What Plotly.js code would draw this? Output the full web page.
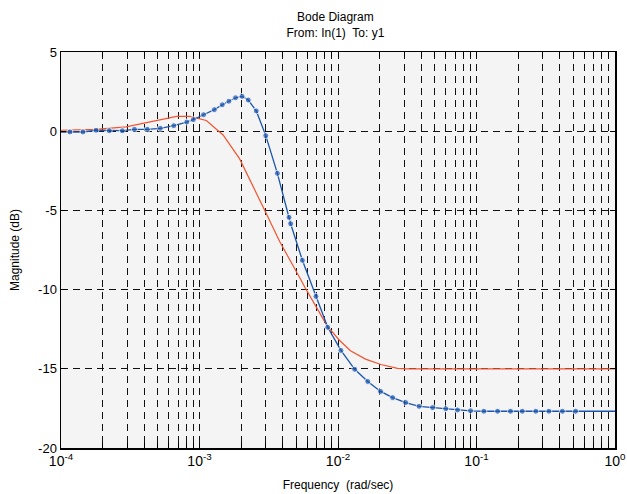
<!DOCTYPE html>
<html>
<head>
<meta charset="utf-8">
<script src="https://cdn.plot.ly/plotly-3.0.1.min.js"></script>
<style>html,body{margin:0;padding:0;background:#fff;}</style>
</head>
<body>
<div id="chart" style="width:627px;height:494px;"></div>
<script>
// Blue series (with markers) – frequency in rad/sec, magnitude in dB
const blueFreq = [1e-4, 1.16e-4, 1.44e-4, 1.79e-4, 2.23e-4, 2.77e-4, 3.39e-4, 4.20e-4, 5.21e-4, 6.52e-4, 8.09e-4, 9.02e-4,
  1.07e-3, 1.28e-3, 1.46e-3, 1.63e-3, 1.82e-3, 2.03e-3, 2.25e-3, 2.57e-3, 3.01e-3, 3.65e-3, 4.43e-3, 4.55e-3,
  5.53e-3, 6.93e-3, 8.43e-3, 1.05e-2, 1.32e-2, 1.64e-2, 2.03e-2, 2.48e-2, 3.08e-2, 3.85e-2, 4.82e-2, 6.00e-2,
  7.29e-2, 9.06e-2, 0.113, 0.142, 0.176, 0.214, 0.268, 0.333, 0.417, 0.519, 1.0];
const blueMag = [-0.05, -0.05, -0.05, 0.06, 0.03, 0.03, 0.12, 0.12, 0.18, 0.35, 0.58, 0.73,
  1.04, 1.36, 1.67, 1.89, 2.11, 2.2, 1.97, 1.28, -0.28, -2.66, -5.44, -5.84,
  -8.15, -10.43, -12.38, -13.84, -15.03, -15.80, -16.43, -16.82, -17.13, -17.37, -17.45, -17.52,
  -17.6, -17.65, -17.68, -17.68, -17.68, -17.68, -17.68, -17.68, -17.68, -17.68, -17.68];
// Red series (line only)
const redFreq = [1e-4, 1.78e-4, 2.95e-4, 6.84e-4, 8.51e-4, 1.12e-3, 1.48e-3, 1.95e-3, 2.95e-3, 3.80e-3,
  5.37e-3, 5.75e-3, 7.08e-3, 8.32e-3, 1.02e-2, 1.23e-2, 1.58e-2, 2.04e-2, 2.69e-2, 3.16e-2, 1.0];
const redMag = [0.06, 0.12, 0.27, 0.94, 0.94, 0.68, -0.24, -1.75, -4.97, -6.98,
  -9.35, -9.84, -11.2, -12.27, -13.18, -13.86, -14.39, -14.73, -14.97, -15.0, -15.0];
// Axis ticks
const decades = [-4, -3, -2, -1, 0];
const yTicks = [-20, -15, -10, -5, 0, 5];

const xTickVals = [], xTickText = [];
decades.forEach((d, i) => {
  const mults = (i === decades.length - 1) ? [1] : [1,2,3,4,5,6,7,8,9];
  mults.forEach(m => {
    xTickVals.push(m * Math.pow(10, d));
    xTickText.push(m === 1 ? '10<sup>' + d + '</sup>' : '');
  });
});

const markerSizes = blueFreq.map((f, i) => (i === 0 || i === blueFreq.length - 1) ? 0 : 6);

const traces = [
  {x: redFreq, y: redMag, type: 'scatter', mode: 'lines',
   line: {color: '#f4532f', width: 1.2}, hoverinfo: 'skip'},
  {x: blueFreq, y: blueMag, type: 'scatter', mode: 'lines+markers',
   line: {color: '#1a55ad', width: 1.3},
   marker: {color: '#1a55ad', size: markerSizes}, hoverinfo: 'skip'}
];

const layout = {
  width: 627, height: 494,
  margin: {l: 61, r: 12, t: 52, b: 46},
  paper_bgcolor: '#ffffff',
  plot_bgcolor: '#f4f4f4',
  showlegend: false,
  font: {family: 'Liberation Sans, Arial, sans-serif', color: '#000', size: 12},
  title: {text: 'Bode Diagram<br>From: In(1)  To: y1', x: 0.535, xanchor: 'center',
          yref: 'container', y: 0.957, yanchor: 'bottom', font: {size: 12, color: '#000'}},
  xaxis: {
    type: 'log', range: [-4, 0],
    tickmode: 'array', tickvals: xTickVals, ticktext: xTickText,
    tickfont: {size: 14},
    ticks: 'inside', ticklen: 5, tickcolor: '#000',
    showline: true, linecolor: '#000', linewidth: 1.5, mirror: 'ticks',
    showgrid: true, gridcolor: '#111', gridwidth: 1, griddash: '7px,5px',
    zeroline: false,
    title: {text: 'Frequency  (rad/sec)', font: {size: 12}, standoff: 12}
  },
  yaxis: {
    range: [-20, 5],
    tickmode: 'array', tickvals: yTicks, ticktext: yTicks.map(String),
    tickfont: {size: 13},
    ticks: 'inside', ticklen: 5, tickcolor: '#000',
    showline: true, linecolor: '#000', linewidth: 1.5, mirror: 'ticks',
    showgrid: true, gridcolor: '#111', gridwidth: 1, griddash: '7px,5px',
    zeroline: false,
    title: {text: 'Magnitude (dB)', font: {size: 12}, standoff: 16}
  }
};

Plotly.newPlot('chart', traces, layout, {staticPlot: true, displayModeBar: false});
</script>
</body>
</html>
